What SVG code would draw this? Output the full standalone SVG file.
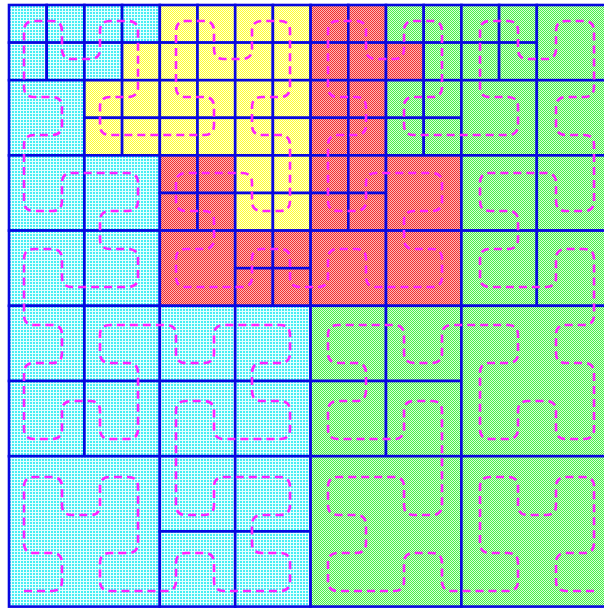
<svg xmlns="http://www.w3.org/2000/svg" width="604" height="608" viewBox="0 0 604 608">
<defs>
<pattern id="pc" width="3" height="3" patternUnits="userSpaceOnUse"><rect width="3" height="3" fill="#e6ffff"/><rect width="2" height="2" fill="#48eef4"/></pattern>
<pattern id="py" width="2" height="2" patternUnits="userSpaceOnUse"><rect width="2" height="2" fill="#ffffd8"/><rect width="1" height="1" fill="#ffff30"/><rect x="1" y="1" width="1" height="1" fill="#ffff30"/></pattern>
<pattern id="pr" width="2" height="2" patternUnits="userSpaceOnUse"><rect width="2" height="2" fill="#ffb4b4"/><rect width="1" height="1" fill="#f03030"/><rect x="1" y="1" width="1" height="1" fill="#f03030"/></pattern>
<pattern id="pg" width="2" height="2" patternUnits="userSpaceOnUse"><rect width="2" height="2" fill="#d4ffd4"/><rect width="1" height="1" fill="#48ee48"/><rect x="1" y="1" width="1" height="1" fill="#48ee48"/></pattern>
</defs>
<style>
.c,.y,.r,.g{stroke:#0808e0;stroke-width:2.6}
.c{fill:url(#pc)}.y{fill:url(#py)}.r{fill:url(#pr)}.g{fill:url(#pg)}
.curve{fill:none;stroke:#ff22ff;stroke-width:2.6;stroke-dasharray:8 5}
</style>
<rect width="604" height="608" fill="#ffffff"/>
<g id="quadrant-tl">
<rect class="c" x="9" y="5" width="37.7" height="37.6"/>
<rect class="c" x="46.7" y="5" width="37.7" height="37.6"/>
<rect class="c" x="9" y="42.6" width="37.7" height="37.6"/>
<rect class="c" x="46.7" y="42.6" width="37.7" height="37.6"/>
<rect class="c" x="84.4" y="5" width="37.7" height="37.6"/>
<rect class="c" x="122.1" y="5" width="37.7" height="37.6"/>
<rect class="c" x="84.4" y="42.6" width="37.7" height="37.6"/>
<rect class="y" x="122.1" y="42.6" width="37.7" height="37.6"/>
<rect class="y" x="159.8" y="5" width="37.7" height="37.6"/>
<rect class="y" x="197.5" y="5" width="37.7" height="37.6"/>
<rect class="y" x="235.2" y="5" width="37.7" height="37.6"/>
<rect class="y" x="272.9" y="5" width="37.7" height="37.6"/>
<rect class="y" x="159.8" y="42.6" width="37.7" height="37.6"/>
<rect class="y" x="197.5" y="42.6" width="37.7" height="37.6"/>
<rect class="y" x="235.2" y="42.6" width="37.7" height="37.6"/>
<rect class="y" x="272.9" y="42.6" width="37.7" height="37.6"/>
<rect class="c" x="9" y="80.2" width="75.4" height="75.2"/>
<rect class="y" x="84.4" y="80.2" width="37.7" height="37.6"/>
<rect class="y" x="122.1" y="80.2" width="37.7" height="37.6"/>
<rect class="y" x="159.8" y="80.2" width="37.7" height="37.6"/>
<rect class="y" x="197.5" y="80.2" width="37.7" height="37.6"/>
<rect class="y" x="235.2" y="80.2" width="37.7" height="37.6"/>
<rect class="y" x="272.9" y="80.2" width="37.7" height="37.6"/>
<rect class="y" x="84.4" y="117.8" width="37.7" height="37.6"/>
<rect class="y" x="122.1" y="117.8" width="37.7" height="37.6"/>
<rect class="y" x="159.8" y="117.8" width="37.7" height="37.6"/>
<rect class="y" x="197.5" y="117.8" width="37.7" height="37.6"/>
<rect class="y" x="235.2" y="117.8" width="37.7" height="37.6"/>
<rect class="y" x="272.9" y="117.8" width="37.7" height="37.6"/>
<rect class="c" x="9" y="155.4" width="75.4" height="75.2"/>
<rect class="c" x="84.4" y="155.4" width="75.4" height="75.2"/>
<rect class="c" x="9" y="230.6" width="75.4" height="75.2"/>
<rect class="c" x="84.4" y="230.6" width="75.4" height="75.2"/>
<rect class="r" x="159.8" y="155.4" width="37.7" height="37.6"/>
<rect class="r" x="197.5" y="155.4" width="37.7" height="37.6"/>
<rect class="r" x="159.8" y="193" width="37.7" height="37.6"/>
<rect class="r" x="197.5" y="193" width="37.7" height="37.6"/>
<rect class="y" x="235.2" y="155.4" width="37.7" height="37.6"/>
<rect class="y" x="272.9" y="155.4" width="37.7" height="37.6"/>
<rect class="y" x="235.2" y="193" width="37.7" height="37.6"/>
<rect class="y" x="272.9" y="193" width="37.7" height="37.6"/>
<rect class="r" x="159.8" y="230.6" width="75.4" height="75.2"/>
<rect class="r" x="235.2" y="230.6" width="37.7" height="37.6"/>
<rect class="r" x="272.9" y="230.6" width="37.7" height="37.6"/>
<rect class="r" x="235.2" y="268.2" width="37.7" height="37.6"/>
<rect class="r" x="272.9" y="268.2" width="37.7" height="37.6"/>
</g>
<g id="quadrant-tr">
<rect class="r" x="310.6" y="5" width="37.7" height="37.6"/>
<rect class="r" x="348.3" y="5" width="37.7" height="37.6"/>
<rect class="r" x="310.6" y="42.6" width="37.7" height="37.6"/>
<rect class="r" x="348.3" y="42.6" width="37.7" height="37.6"/>
<rect class="r" x="310.6" y="80.2" width="37.7" height="37.6"/>
<rect class="r" x="348.3" y="80.2" width="37.7" height="37.6"/>
<rect class="r" x="310.6" y="117.8" width="37.7" height="37.6"/>
<rect class="r" x="348.3" y="117.8" width="37.7" height="37.6"/>
<rect class="g" x="386" y="5" width="37.7" height="37.6"/>
<rect class="g" x="423.7" y="5" width="37.7" height="37.6"/>
<rect class="r" x="386" y="42.6" width="37.7" height="37.6"/>
<rect class="g" x="423.7" y="42.6" width="37.7" height="37.6"/>
<rect class="g" x="461.4" y="5" width="37.7" height="37.6"/>
<rect class="g" x="499.1" y="5" width="37.7" height="37.6"/>
<rect class="g" x="461.4" y="42.6" width="37.7" height="37.6"/>
<rect class="g" x="499.1" y="42.6" width="37.7" height="37.6"/>
<rect class="g" x="536.8" y="5" width="75.4" height="75.2"/>
<rect class="g" x="386" y="80.2" width="37.7" height="37.6"/>
<rect class="g" x="423.7" y="80.2" width="37.7" height="37.6"/>
<rect class="g" x="386" y="117.8" width="37.7" height="37.6"/>
<rect class="g" x="423.7" y="117.8" width="37.7" height="37.6"/>
<rect class="g" x="461.4" y="80.2" width="75.4" height="75.2"/>
<rect class="g" x="536.8" y="80.2" width="75.4" height="75.2"/>
<rect class="r" x="310.6" y="155.4" width="37.7" height="37.6"/>
<rect class="r" x="348.3" y="155.4" width="37.7" height="37.6"/>
<rect class="r" x="310.6" y="193" width="37.7" height="37.6"/>
<rect class="r" x="348.3" y="193" width="37.7" height="37.6"/>
<rect class="r" x="386" y="155.4" width="75.4" height="75.2"/>
<rect class="g" x="461.4" y="155.4" width="75.4" height="75.2"/>
<rect class="g" x="536.8" y="155.4" width="75.4" height="75.2"/>
<rect class="r" x="310.6" y="230.6" width="75.4" height="75.2"/>
<rect class="r" x="386" y="230.6" width="75.4" height="75.2"/>
<rect class="g" x="461.4" y="230.6" width="75.4" height="75.2"/>
<rect class="g" x="536.8" y="230.6" width="75.4" height="75.2"/>
</g>
<g id="quadrant-bl">
<rect class="c" x="9" y="305.8" width="75.4" height="75.2"/>
<rect class="c" x="84.4" y="305.8" width="75.4" height="75.2"/>
<rect class="c" x="159.8" y="305.8" width="75.4" height="75.2"/>
<rect class="c" x="235.2" y="305.8" width="75.4" height="75.2"/>
<rect class="c" x="9" y="381" width="75.4" height="75.2"/>
<rect class="c" x="84.4" y="381" width="75.4" height="75.2"/>
<rect class="c" x="159.8" y="381" width="75.4" height="75.2"/>
<rect class="c" x="235.2" y="381" width="75.4" height="75.2"/>
<rect class="c" x="9" y="456.2" width="150.8" height="150.4"/>
<rect class="c" x="159.8" y="456.2" width="75.4" height="75.2"/>
<rect class="c" x="235.2" y="456.2" width="75.4" height="75.2"/>
<rect class="c" x="159.8" y="531.4" width="75.4" height="75.2"/>
<rect class="c" x="235.2" y="531.4" width="75.4" height="75.2"/>
</g>
<g id="quadrant-br">
<rect class="g" x="310.6" y="305.8" width="75.4" height="75.2"/>
<rect class="g" x="386" y="305.8" width="75.4" height="75.2"/>
<rect class="g" x="310.6" y="381" width="75.4" height="75.2"/>
<rect class="g" x="386" y="381" width="75.4" height="75.2"/>
<rect class="g" x="461.4" y="305.8" width="150.8" height="150.4"/>
<rect class="g" x="310.6" y="456.2" width="150.8" height="150.4"/>
<rect class="g" x="461.4" y="456.2" width="150.8" height="150.4"/>
</g>
<g id="connectors">
<path class="curve" d="M24 591
h28 q10 0 10 -10 v-18 q0 -10 -10 -10 h-18 q-10 0 -10 -10 v-56 q0 -10 10 -10 h18 q10 0 10 10 v18 q0 10 10 10 h18 q10 0 10 -10 v-18 q0 -10 10 -10 h18 q10 0 10 10 v56 q0 10 -10 10 h-18 q-10 0 -10 10 v18 q0 10 10 10 h56 q10 0 10 -10
v-18 q0 -10 10 -10 h18 q10 0 10 10 v18 q0 10 10 10 h56 q10 0 10 -10 v-18 q0 -10 -10 -10 h-18 q-10 0 -10 -10 v-18 q0 -10 10 -10 h18 q10 0 10 -10 v-18 q0 -10 -10 -10 h-56 q-10 0 -10 10 v18 q0 10 -10 10 h-18 q-10 0 -10 -10 v-94 q0 -10 10 -10
h18 q10 0 10 10 v18 q0 10 10 10 h56 q10 0 10 -10 v-18 q0 -10 -10 -10 h-18 q-10 0 -10 -10 v-18 q0 -10 10 -10 h18 q10 0 10 -10 v-18 q0 -10 -10 -10 h-56 q-10 0 -10 10 v18 q0 10 -10 10 h-18 q-10 0 -10 -10 v-18 q0 -10 -10 -10 h-56 q-10 0 -10 10
v18 q0 10 10 10 h18 q10 0 10 10 v56 q0 10 -10 10 h-18 q-10 0 -10 -10 v-18 q0 -10 -10 -10 h-18 q-10 0 -10 10 v18 q0 10 -10 10 h-18 q-10 0 -10 -10 v-56 q0 -10 10 -10 h18 q10 0 10 -10 v-18 q0 -10 -10 -10 h-18 q-10 0 -10 -10 v-56 q0 -10 10 -10
h18 q10 0 10 10 v18 q0 10 10 10 h56 q10 0 10 -10 v-18 q0 -10 -10 -10 h-18 q-10 0 -10 -10 v-18 q0 -10 10 -10 h18 q10 0 10 -10 v-18 q0 -10 -10 -10 h-56 q-10 0 -10 10 v18 q0 10 -10 10 h-18 q-10 0 -10 -10 v-56 q0 -10 10 -10
h18 q10 0 10 -10 v-18 q0 -10 -10 -10 h-18 q-10 0 -10 -10 v-56 q0 -10 10 -10 h18 q10 0 10 10 v18 q0 10 10 10 h18 q10 0 10 -10 v-18 q0 -10 10 -10 h18 q10 0 10 10 v56 q0 10 -10 10 h-18 q-10 0 -10 10 v18 q0 10 10 10 h94 q10 0 10 -10
v-18 q0 -10 -10 -10 h-18 q-10 0 -10 -10 v-56 q0 -10 10 -10 h18 q10 0 10 10 v18 q0 10 10 10 h18 q10 0 10 -10 v-18 q0 -10 10 -10 h18 q10 0 10 10 v56 q0 10 -10 10 h-18 q-10 0 -10 10 v18 q0 10 10 10 h18 q10 0 10 10 v56 q0 10 -10 10
h-18 q-10 0 -10 -10 v-18 q0 -10 -10 -10 h-56 q-10 0 -10 10 v18 q0 10 10 10 h18 q10 0 10 10 v18 q0 10 -10 10 h-18 q-10 0 -10 10 v18 q0 10 10 10 h56 q10 0 10 -10 v-18 q0 -10 10 -10 h18 q10 0 10 10 v18 q0 10 10 10 h18 q10 0 10 -10
v-18 q0 -10 10 -10 h18 q10 0 10 10 v18 q0 10 10 10 h56 q10 0 10 -10 v-18 q0 -10 -10 -10 h-18 q-10 0 -10 -10 v-18 q0 -10 10 -10 h18 q10 0 10 -10 v-18 q0 -10 -10 -10 h-56 q-10 0 -10 10 v18 q0 10 -10 10 h-18 q-10 0 -10 -10 v-56 q0 -10 10 -10
h18 q10 0 10 -10 v-18 q0 -10 -10 -10 h-18 q-10 0 -10 -10 v-56 q0 -10 10 -10 h18 q10 0 10 10 v18 q0 10 10 10 h18 q10 0 10 -10 v-18 q0 -10 10 -10 h18 q10 0 10 10 v56 q0 10 -10 10 h-18 q-10 0 -10 10 v18 q0 10 10 10 h94 q10 0 10 -10
v-18 q0 -10 -10 -10 h-18 q-10 0 -10 -10 v-56 q0 -10 10 -10 h18 q10 0 10 10 v18 q0 10 10 10 h18 q10 0 10 -10 v-18 q0 -10 10 -10 h18 q10 0 10 10 v56 q0 10 -10 10 h-18 q-10 0 -10 10 v18 q0 10 10 10 h18 q10 0 10 10 v56 q0 10 -10 10
h-18 q-10 0 -10 -10 v-18 q0 -10 -10 -10 h-56 q-10 0 -10 10 v18 q0 10 10 10 h18 q10 0 10 10 v18 q0 10 -10 10 h-18 q-10 0 -10 10 v18 q0 10 10 10 h56 q10 0 10 -10 v-18 q0 -10 10 -10 h18 q10 0 10 10 v56 q0 10 -10 10
h-18 q-10 0 -10 10 v18 q0 10 10 10 h18 q10 0 10 10 v56 q0 10 -10 10 h-18 q-10 0 -10 -10 v-18 q0 -10 -10 -10 h-18 q-10 0 -10 10 v18 q0 10 -10 10 h-18 q-10 0 -10 -10 v-56 q0 -10 10 -10 h18 q10 0 10 -10 v-18 q0 -10 -10 -10 h-56 q-10 0 -10 10
v18 q0 10 -10 10 h-18 q-10 0 -10 -10 v-18 q0 -10 -10 -10 h-56 q-10 0 -10 10 v18 q0 10 10 10 h18 q10 0 10 10 v18 q0 10 -10 10 h-18 q-10 0 -10 10 v18 q0 10 10 10 h56 q10 0 10 -10 v-18 q0 -10 10 -10 h18 q10 0 10 10 v94 q0 10 -10 10
h-18 q-10 0 -10 -10 v-18 q0 -10 -10 -10 h-56 q-10 0 -10 10 v18 q0 10 10 10 h18 q10 0 10 10 v18 q0 10 -10 10 h-18 q-10 0 -10 10 v18 q0 10 10 10 h56 q10 0 10 -10 v-18 q0 -10 10 -10 h18 q10 0 10 10 v18 q0 10 10 10 h56 q10 0 10 -10
v-18 q0 -10 -10 -10 h-18 q-10 0 -10 -10 v-56 q0 -10 10 -10 h18 q10 0 10 10 v18 q0 10 10 10 h18 q10 0 10 -10 v-18 q0 -10 10 -10 h18 q10 0 10 10 v56 q0 10 -10 10 h-18 q-10 0 -10 10 v18 q0 10 10 10 h28"/>
</g>
</svg>
